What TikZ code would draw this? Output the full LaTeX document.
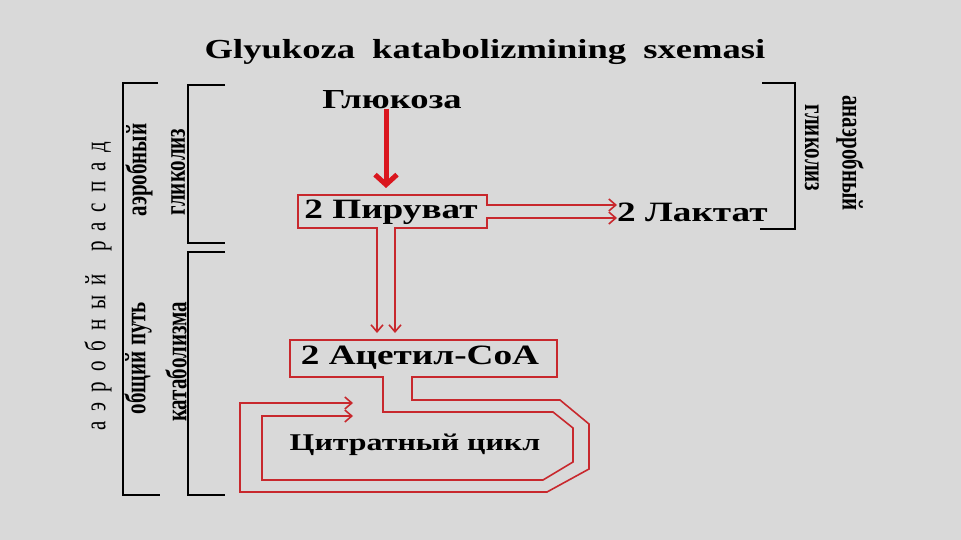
\documentclass[tikz,border=0pt]{standalone}
\usepackage{fontspec}
\setmainfont{Liberation Serif}
\usepackage{graphicx}
\usetikzlibrary{arrows.meta}

\definecolor{slidegray}{RGB}{217,217,217}
\definecolor{pathred}{RGB}{200,40,45}
\definecolor{arrowred}{RGB}{218,22,30}

% the slide is stretched sideways
\newcommand{\wide}[1]{\scalebox{1.33}[1]{#1}}
\newcommand{\tall}[1]{\scalebox{1}[1.4]{#1}}

\tikzset{
  lbl/.style={inner sep=0pt, font=\bfseries\fontsize{28}{32}\selectfont},
  sidelbl/.style={inner sep=0pt, rotate=90, font=\bfseries\fontsize{21}{24}\selectfont},
  rightlbl/.style={inner sep=0pt, rotate=-90, font=\bfseries\fontsize{21}{24}\selectfont},
  brace/.style={line width=1.5pt, black},
  channel/.style={line width=1.6pt, pathred, line join=miter,
    {Straight Barb[length=7pt,width=12pt]}-{Straight Barb[length=7pt,width=12pt]}},
  gluarrow/.style={line width=5pt, arrowred, -{Straight Barb[length=10pt,width=22pt]}}
}

\begin{document}
\begin{tikzpicture}[x=1pt, y=-1pt]
  \fill[slidegray] (0,0) rectangle (961,540);
  \useasboundingbox (0,0) rectangle (961,540);

  \node[lbl, font=\bfseries\fontsize{27.5}{32}\selectfont] (title) at (485,52)
    {\wide{Glyukoza\hspace{6pt} katabolizmining\hspace{6pt} sxemasi}};

  \node[lbl, font=\bfseries\fontsize{27.5}{32}\selectfont] (gluc) at (392,100) {\wide{Глюкоза}};
  \node[lbl] (pyr) at (391,212) {\wide{2 Пируват}};
  \node[lbl, anchor=west] (lact) at (617,212) {\wide{2 Лактат}};
  \node[lbl] (acoa) at (420,358) {\wide{2 Ацетил-СоА}};
  \node[lbl, font=\bfseries\fontsize{24}{28}\selectfont] (cycle) at (415,445) {\wide{Цитратный цикл}};

  % side labels
  \node[sidelbl, font=\fontsize{21}{24}\selectfont] (aer) at (98,286)
    {\tall{\spaceskip=10pt а э р о б н ы й\hspace{22pt}р а с п а д}};
  \node[sidelbl] (aerA) at (139,170) {\tall{аэробный}};
  \node[sidelbl] (aerB) at (178,172) {\tall{гликолиз}};
  \node[sidelbl] (comA) at (138,358) {\tall{общий путь}};
  \node[sidelbl] (comB) at (176,362) {\tall{катаболизма}};
  \node[rightlbl] (anA) at (850,153) {\tall{анаэробный}};
  \node[rightlbl] (anB) at (812,148) {\tall{гликолиз}};

  % brackets
  \draw[brace] (158,83) -- (123,83) -- (123,495) -- (160,495);
  \draw[brace] (225,85) -- (188,85) -- (188,243) -- (225,243);
  \draw[brace] (225,252) -- (188,252) -- (188,495) -- (225,495);
  \draw[brace] (762,83) -- (795,83) -- (795,229) -- (760,229);

  % glucose -> pyruvate
  \coordinate (pyrtop) at (386,188);
  \draw[gluarrow] (gluc.south -| pyrtop) -- (pyrtop);

  % pyruvate box with its two channels
  \draw[channel] (lact.west |- 0,205) -- (487,205) -- (487,195) -- (298,195)
    -- (298,228) -- (377,228) -- (377,333);
  \draw[channel] (lact.west |- 0,218) -- (487,218) -- (487,228) -- (395,228) -- (395,333);

  % acetyl-CoA box and citrate cycle loop
  \draw[channel] (353,416) -- (262,416) -- (262,480) -- (543,480) -- (573,462)
    -- (573,428) -- (553,412) -- (383,412) -- (383,377) -- (290,377) -- (290,340)
    -- (557,340) -- (557,377) -- (412,377) -- (412,400) -- (560,400) -- (589,424)
    -- (589,469) -- (547,492) -- (240,492) -- (240,403) -- (353,403);
\end{tikzpicture}
\end{document}
